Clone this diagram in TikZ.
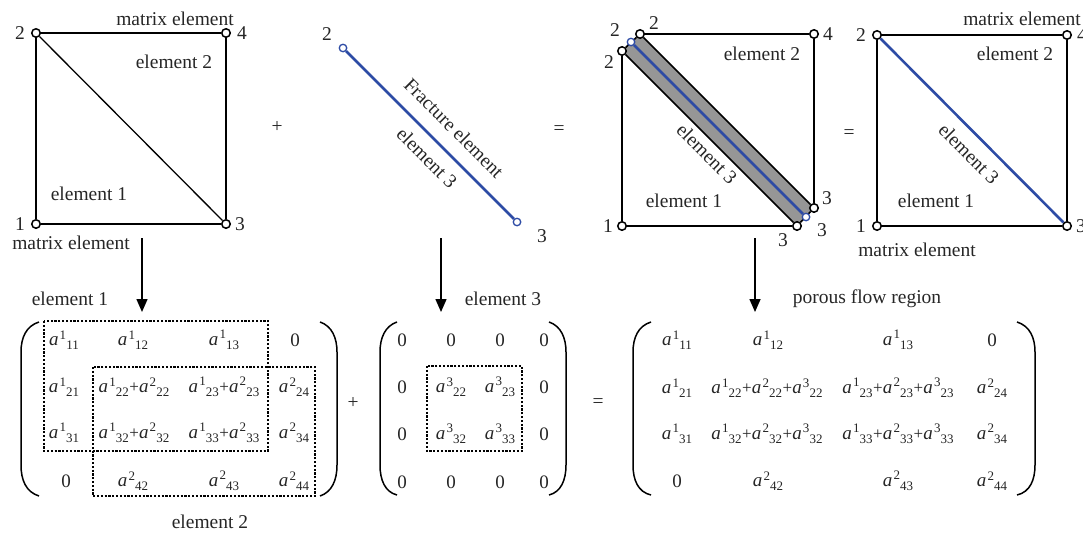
\documentclass[tikz,border=0pt]{standalone}
\usepackage{fontspec}
\setmainfont{Liberation Serif}
\usetikzlibrary{arrows.meta}
\newcommand{\el}[2]{{\fontsize{19}{19}\selectfont\itshape a}\kern1.2pt\raisebox{6.5pt}{\fontsize{13}{13}\selectfont #1}\kern0.2pt\raisebox{-4pt}{\fontsize{13}{13}\selectfont #2}}
\newcommand{\elp}{\kern0.3pt{\fontsize{17}{17}\selectfont +}\kern0.2pt}
\definecolor{fblue}{RGB}{45,75,165}
\definecolor{fgrey}{RGB}{150,150,150}
\tikzset{
  x=1pt,y=-1pt,
  txt/.style={inner sep=0pt,text=black!85,font=\fontsize{19.5}{21}\selectfont},
  ent/.style={inner sep=0pt,text=black!85,font=\fontsize{19}{19}\selectfont},
  vtx/.style={circle,draw=black,fill=white,line width=1.5pt,minimum size=8.5pt,inner sep=0pt},
  bvtx/.style={circle,draw=fblue,fill=white,line width=1.3pt,minimum size=7.5pt,inner sep=0pt},
  edge/.style={draw=black,line width=1.6pt},
  thinedge/.style={draw=black,line width=1.3pt},
  blueedge/.style={draw=fblue,line width=2.6pt},
  dotbox/.style={draw=black,line width=1.3pt,dash pattern=on 2.2pt off 1.6pt},
  brk/.style={draw=black,line width=1.5pt},
  arr/.style={draw=black,line width=1.5pt,-{Triangle[length=13pt,width=11pt]}},
}
\begin{document}
\begin{tikzpicture}
\useasboundingbox (0,0) rectangle (1083,533);
\clip (0,0) rectangle (1083,533);
\fill[white] (0,0) rectangle (1083,533);
% square 1
\node[vtx] (a1) at (36,224) {};
\node[vtx] (a2) at (36,33) {};
\node[vtx] (a3) at (226,224) {};
\node[vtx] (a4) at (226,33) {};
\draw[edge] (a1)--(a2)--(a4)--(a3)--(a1);
\draw[thinedge] (a2)--(a3);
\node[txt] (a1l) at (20,224) {1};
\node[txt] (a2l) at (20,33) {2};
\node[txt] (a3l) at (240,224) {3};
\node[txt] (a4l) at (242,33) {4};
\node[txt] (t1) at (175,19) {matrix element};
\node[txt] (t2) at (174,62) {element 2};
\node[txt] (t3) at (89,194) {element 1};
\node[txt] (t4) at (71,243) {matrix element};
\node[txt] (plus1) at (277,127) {+};
% fracture
\node[bvtx] (f2) at (343,48) {};
\node[bvtx] (f3) at (517,222) {};
\draw[blueedge] (f2)--(f3);
\node[txt] (f2l) at (327,34) {2};
\node[txt] (f3l) at (542,236) {3};
\node[txt,rotate=-45] (fe) at (454,128) {Fracture element};
\node[txt,rotate=-45] (fe3) at (427,158) {element 3};
\node[txt] (eq1) at (559,130) {=};
% square 3
\fill[fgrey] (622,51)--(640,34)--(814,208)--(797,226)--cycle;
\node[vtx] (c1) at (622,226) {};
\node[vtx] (c2a) at (622,51) {};
\node[vtx] (c2b) at (640,34) {};
\node[vtx] (c4) at (814,34) {};
\node[vtx] (c3a) at (797,226) {};
\node[vtx] (c3b) at (814,208) {};
\draw[edge] (c2a)--(c1)--(c3a)--(c2a) (c2b)--(c4)--(c3b)--(c2b) (c2a)--(c2b) (c3a)--(c3b);
\node[bvtx] (cf2) at (631,42) {};
\node[bvtx] (cf3) at (806,217) {};
\draw[blueedge] (cf2)--(cf3);
\node[txt] (cl1) at (615,30) {2};
\node[txt] (cl2) at (609,62) {2};
\node[txt] (cl3) at (654,23) {2};
\node[txt] (cl5) at (828,34) {4};
\node[txt] (cl6) at (827,198) {3};
\node[txt] (cl7) at (822,230) {3};
\node[txt] (cl8) at (783,240) {3};
\node[txt] (cl9) at (608,226) {1};
\node[txt] (cl10) at (762,54) {element 2};
\node[txt] (cl11) at (684,201) {element 1};
\node[txt,rotate=-45] (cl12) at (707,154) {element 3};
\node[txt] (eq2) at (849,134) {=};
% square 4
\node[vtx] (d1) at (877,226) {};
\node[vtx] (d2) at (877,35) {};
\node[vtx] (d3) at (1067,226) {};
\node[vtx] (d4) at (1067,35) {};
\draw[edge] (d1)--(d2)--(d4)--(d3)--(d1);
\draw[blueedge] (d2)--(d3);
\node[txt] (dl2) at (861,35) {2};
\node[txt] (dl1) at (861,226) {1};
\node[txt] (dl3) at (1081,226) {3};
\node[txt] (dl4) at (1082,35) {4};
\node[txt] (dt1) at (1022,19) {matrix element};
\node[txt] (dt2) at (917,250) {matrix element};
\node[txt] (dt3) at (1015,54) {element 2};
\node[txt] (dt4) at (936,201) {element 1};
\node[txt,rotate=-45] (dt5) at (969,154) {element 3};
% arrows
\coordinate (ar1s) at (142,238); \coordinate (ar1e) at (142,312);
\coordinate (ar2s) at (441,238); \coordinate (ar2e) at (441,312);
\coordinate (ar3s) at (755,238); \coordinate (ar3e) at (755,312);
\draw[arr] (ar1s)--(ar1e);
\draw[arr] (ar2s)--(ar2e);
\draw[arr] (ar3s)--(ar3e);
\node[txt] (m1t) at (70,299) {element 1};
\node[txt] (m1b) at (210,522) {element 2};
\node[txt] (m2t) at (503,299) {element 3};
\node[txt] (m3t) at (867,299) {porous flow region};
% matrix 1
\draw[brk] (39,322) .. controls (26,326) and (21,338) .. (21,352) -- (21,465) .. controls (21,480) and (26,492) .. (39,496);
\draw[brk] (320,322) .. controls (332,326) and (337,338) .. (337,352) -- (337,465) .. controls (337,480) and (332,492) .. (320,496);
\draw[dotbox] (44,321) rectangle (268,451);
\draw[dotbox] (93,367) rectangle (315,496);
\node[ent] (p11) at (64,340) {\el{1}{11}};
\node[ent] (p12) at (133,340) {\el{1}{12}};
\node[ent] (p13) at (224,340) {\el{1}{13}};
\node[ent] (p14) at (295,340) {0};
\node[ent] (p21) at (64,387) {\el{1}{21}};
\node[ent] (p22) at (134,387) {\el{1}{22}\elp\el{2}{22}};
\node[ent] (p23) at (224,387) {\el{1}{23}\elp\el{2}{23}};
\node[ent] (p24) at (294,387) {\el{2}{24}};
\node[ent] (p31) at (64,433) {\el{1}{31}};
\node[ent] (p32) at (134,433) {\el{1}{32}\elp\el{2}{32}};
\node[ent] (p33) at (224,433) {\el{1}{33}\elp\el{2}{33}};
\node[ent] (p34) at (294,433) {\el{2}{34}};
\node[ent] (p41) at (66,481) {0};
\node[ent] (p42) at (133,481) {\el{2}{42}};
\node[ent] (p43) at (224,481) {\el{2}{43}};
\node[ent] (p44) at (294,481) {\el{2}{44}};
\node[txt] (plus2) at (353,403) {+};
% matrix 2
\draw[brk] (397,322) .. controls (385,326) and (380,338) .. (380,352) -- (380,465) .. controls (380,480) and (385,492) .. (397,495);
\draw[brk] (549,322) .. controls (561,326) and (566,338) .. (566,352) -- (566,465) .. controls (566,480) and (561,492) .. (549,495);
\draw[dotbox] (427,366) rectangle (522,451);
\foreach \x in {402,451,500,544} {\node[ent] (qt\x) at (\x,340) {0}; \node[ent] (qb\x) at (\x,482) {0};}
\node[ent] (q21) at (402,387) {0};
\node[ent] (q31) at (402,434) {0};
\node[ent] (q24) at (544,387) {0};
\node[ent] (q34) at (544,434) {0};
\node[ent] (q22) at (451,387) {\el{3}{22}};
\node[ent] (q23) at (500,387) {\el{3}{23}};
\node[ent] (q32) at (451,434) {\el{3}{32}};
\node[ent] (q33) at (500,434) {\el{3}{33}};
\node[txt] (eq3) at (598,403) {=};
% matrix 3
\draw[brk] (651,322) .. controls (638,326) and (633,338) .. (633,352) -- (633,465) .. controls (633,480) and (638,492) .. (651,495);
\draw[brk] (1017,322) .. controls (1030,326) and (1035,338) .. (1035,352) -- (1035,465) .. controls (1035,480) and (1030,492) .. (1017,495);
\node[ent] (r11) at (677,340) {\el{1}{11}};
\node[ent] (r12) at (768,340) {\el{1}{12}};
\node[ent] (r13) at (898,340) {\el{1}{13}};
\node[ent] (r14) at (992,340) {0};
\node[ent] (r21) at (677,388) {\el{1}{21}};
\node[ent] (r22) at (767,388) {\el{1}{22}\elp\el{2}{22}\elp\el{3}{22}};
\node[ent] (r23) at (898,388) {\el{1}{23}\elp\el{2}{23}\elp\el{3}{23}};
\node[ent] (r24) at (992,388) {\el{2}{24}};
\node[ent] (r31) at (677,434) {\el{1}{31}};
\node[ent] (r32) at (767,434) {\el{1}{32}\elp\el{2}{32}\elp\el{3}{32}};
\node[ent] (r33) at (898,434) {\el{1}{33}\elp\el{2}{33}\elp\el{3}{33}};
\node[ent] (r34) at (992,434) {\el{2}{34}};
\node[ent] (r41) at (677,481) {0};
\node[ent] (r42) at (768,481) {\el{2}{42}};
\node[ent] (r43) at (898,481) {\el{2}{43}};
\node[ent] (r44) at (992,481) {\el{2}{44}};
\end{tikzpicture}
\end{document}
